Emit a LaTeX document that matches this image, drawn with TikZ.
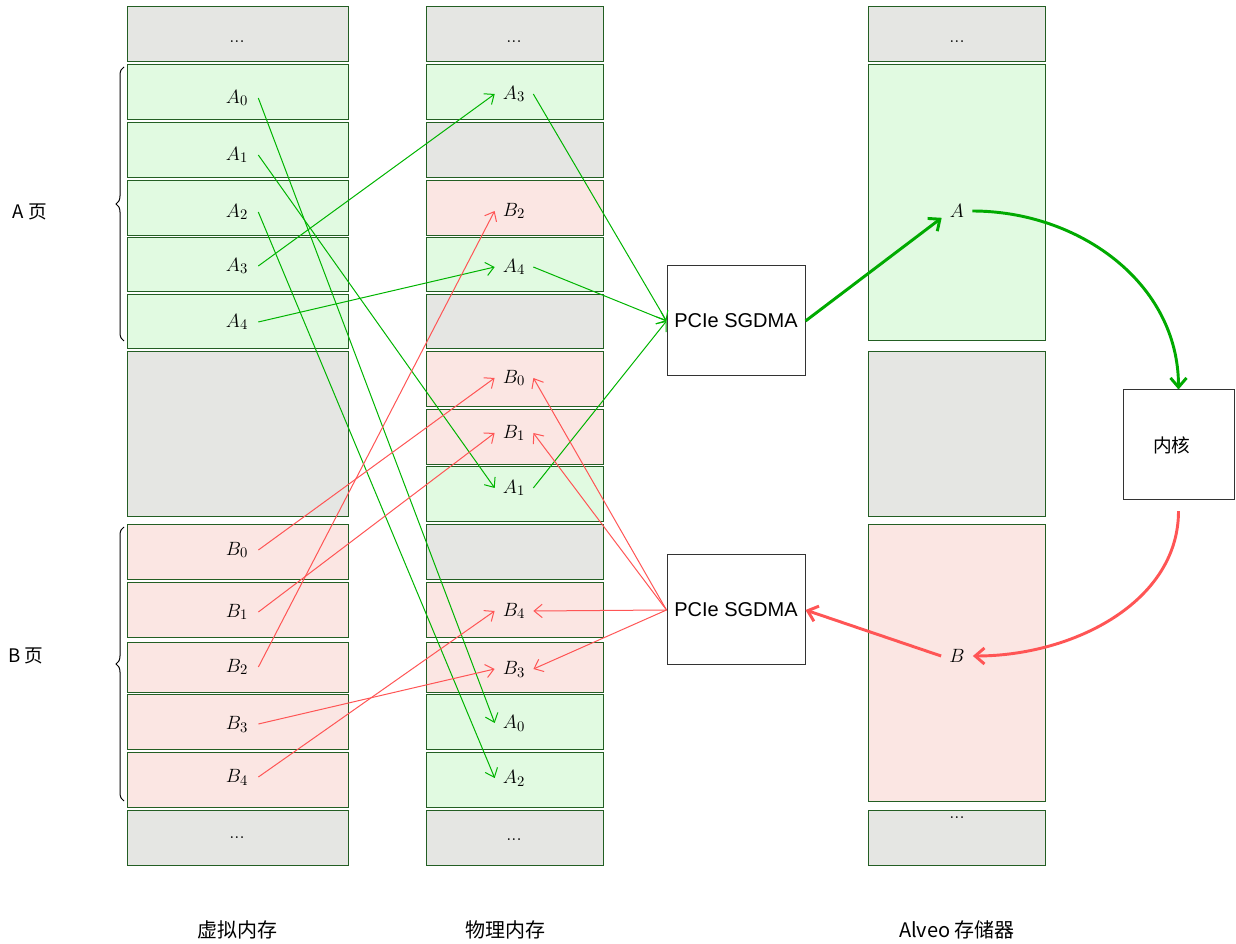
\documentclass[tikz,border=0pt]{standalone}
\usepackage{fontspec}
\newfontfamily\cjk{Noto Sans CJK SC}
\newfontfamily\arial{Liberation Sans}
\usetikzlibrary{arrows.meta,decorations.pathreplacing}
\definecolor{greenc}{HTML}{E1FAE1}
\definecolor{grayc}{HTML}{E5E6E3}
\definecolor{redc}{HTML}{FBE6E3}
\definecolor{cellborder}{HTML}{235E23}
\definecolor{ln}{HTML}{00B400}
\definecolor{lnthick}{HTML}{00AA00}
\definecolor{rd}{HTML}{FF5555}
\begin{document}
\begin{tikzpicture}[x=0.75pt,y=-0.75pt,
  cell/.style={draw=cellborder,line width=0.75pt},
  vlab/.style={inner ysep=0pt,inner xsep=7.5pt,font=\fontsize{15.5}{18}\selectfont},
  plab/.style={inner ysep=0pt,inner xsep=6pt,font=\fontsize{15.5}{18}\selectfont},
  dots/.style={inner sep=0pt,font=\fontsize{14}{16}\selectfont},
  gar/.style={draw=ln,line width=0.75pt,-{Straight Barb[length=6pt,width=10pt]}},
  rar/.style={draw=rd,line width=0.75pt,-{Straight Barb[length=6pt,width=10pt]}},
  gthick/.style={draw=lnthick,line width=2.2pt,-{Straight Barb[length=7pt,width=12pt]}},
  rthick/.style={draw=rd,line width=2.2pt,-{Straight Barb[length=7pt,width=12pt]}},
  box/.style={draw=black!80,line width=0.75pt,fill=white,minimum height=82.5pt},
  cjklab/.style={font=\cjk\fontsize{14}{17}\selectfont,inner sep=0pt}]
\useasboundingbox (0,0) rectangle (1236,944);
% virtual memory column
\foreach \ya/\yb/\c in {7/62/grayc,65/120/greenc,123/178/greenc,181/236/greenc,238/292/greenc,295/349/greenc,352/517/grayc,525/580/redc,583/638/redc,643/693/redc,695/749/redc,752/807/redc,810/865/grayc}
  \draw[cell,fill=\c] (127,\ya) rectangle (348,\yb);
% physical memory column
\foreach \ya/\yb/\c in {7/62/grayc,65/120/greenc,123/178/grayc,181/236/redc,238/292/greenc,295/349/grayc,352/407/redc,410/465/redc,467/522/greenc,525/580/grayc,583/638/redc,643/693/redc,695/749/greenc,752/807/greenc,810/865/grayc}
  \draw[cell,fill=\c] (426,\ya) rectangle (603,\yb);
% Alveo column
\foreach \ya/\yb/\c in {7/62/grayc,65/341/greenc,352/517/grayc,525/801/redc,810/865/grayc}
  \draw[cell,fill=\c] (868,\ya) rectangle (1045,\yb);
% dots
\node[dots] (vd1) at (237,42) {...};
\node[dots] (vd2) at (237,838) {...};
\node[dots] (pd1) at (514,42) {...};
\node[dots] (pd2) at (514,840) {...};
\node[dots] (ad1) at (957,42) {...};
\node[dots] (ad2) at (957,818) {...};
% virtual labels
\node[vlab] (vA0) at (237,98) {$A_0$};
\node[vlab] (vA1) at (237,155) {$A_1$};
\node[vlab] (vA2) at (237,212) {$A_2$};
\node[vlab] (vA3) at (237,266) {$A_3$};
\node[vlab] (vA4) at (237,322) {$A_4$};
\node[vlab] (vB0) at (237,550) {$B_0$};
\node[vlab] (vB1) at (237,612) {$B_1$};
\node[vlab] (vB2) at (237,667) {$B_2$};
\node[vlab] (vB3) at (237,724) {$B_3$};
\node[vlab] (vB4) at (237,777) {$B_4$};
% physical labels
\node[plab] (pA3) at (514,94) {$A_3$};
\node[plab] (pB2) at (514,211) {$B_2$};
\node[plab] (pA4) at (514,267) {$A_4$};
\node[plab] (pB0) at (514,378) {$B_0$};
\node[plab] (pB1) at (514,433) {$B_1$};
\node[plab] (pA1) at (514,488) {$A_1$};
\node[plab] (pB4) at (514,611) {$B_4$};
\node[plab] (pB3) at (514,669) {$B_3$};
\node[plab] (pA0) at (514,723) {$A_0$};
\node[plab] (pA2) at (514,778) {$A_2$};
% Alveo labels
\node[plab] (aA) at (957,211) {$A$};
\node[plab] (aB) at (957,656) {$B$};
% boxes
\node[box,minimum width=103.5pt,font=\arial\fontsize{15}{18}\selectfont] (sg1) at (736,321) {PCIe SGDMA};
\node[box,minimum width=103.5pt,font=\arial\fontsize{15}{18}\selectfont] (sg2) at (736,610) {PCIe SGDMA};
\node[box,minimum width=83.25pt,font=\cjk\fontsize{14}{17}\selectfont] (kern) at (1178.5,445) {内核\hspace*{10pt}};
% virtual -> physical
\draw[gar] (vA0.east) -- (pA0.west);
\draw[gar] (vA1.east) -- (pA1.west);
\draw[gar] (vA2.east) -- (pA2.west);
\draw[gar] (vA3.east) -- (pA3.west);
\draw[gar] (vA4.east) -- (pA4.west);
\draw[rar] (vB0.east) -- (pB0.west);
\draw[rar] (vB1.east) -- (pB1.west);
\draw[rar] (vB2.east) -- (pB2.west);
\draw[rar] (vB3.east) -- (pB3.west);
\draw[rar] (vB4.east) -- (pB4.west);
% physical -> SGDMA
\draw[gar] (pA3.east) -- (sg1.west);
\draw[gar] (pA4.east) -- (sg1.west);
\draw[gar] (pA1.east) -- (sg1.west);
\draw[rar] (sg2.west) -- (pB0.east);
\draw[rar] (sg2.west) -- (pB1.east);
\draw[rar] (sg2.west) -- (pB4.east);
\draw[rar] (sg2.west) -- (pB3.east);
% thick flow
\draw[gthick] (sg1.east) -- (aA.south west);
\draw[gthick] (aA.east) to[out=0,in=90] (kern.north);
\draw[rthick,shorten <=8pt] (kern.south) to[out=-90,in=0] (aB.east);
\draw[rthick] (aB.west) -- (sg2.east);
% braces
\draw[decorate,decoration={brace,amplitude=6pt},line width=0.75pt] (124,341) -- (124,67);
\draw[decorate,decoration={brace,amplitude=6pt},line width=0.75pt] (124,801) -- (124,527);
\node[cjklab] (la) at (30,212) {A 页};
\node[cjklab] (lb) at (26,656) {B 页};
% column titles
\node[cjklab,font=\cjk\fontsize{15}{18}\selectfont] (t1) at (237,930) {虚拟内存};
\node[cjklab,font=\cjk\fontsize{15}{18}\selectfont] (t2) at (505,930) {物理内存};
\node[cjklab,font=\cjk\fontsize{15}{18}\selectfont] (t3) at (957,930) {Alveo 存储器};
\end{tikzpicture}
\end{document}
